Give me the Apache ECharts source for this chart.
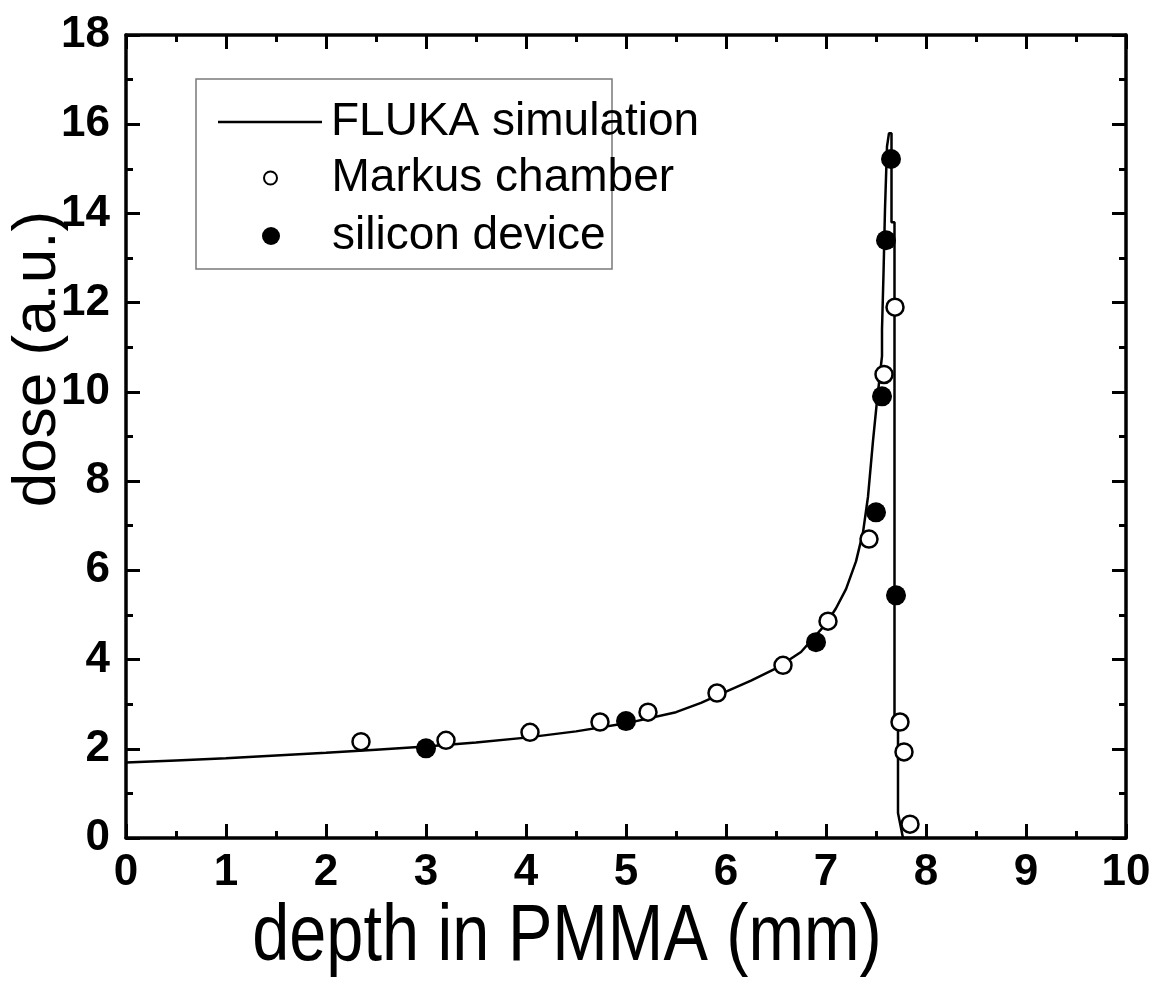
<!DOCTYPE html>
<html>
<head>
<meta charset="utf-8">
<title>Bragg peak: dose vs depth in PMMA</title>
<script src="https://cdn.jsdelivr.net/npm/echarts@6/dist/echarts.min.js"></script>
<style>
  html, body { margin: 0; padding: 0; background: #fff; }
  #chart { width: 1155px; height: 984px; }
</style>
</head>
<body>
<div id="chart"></div>
<script>
// FLUKA simulated depth-dose curve (depth in mm, dose in a.u.)
const simDepth = [0, 0.5, 1, 1.5, 2, 2.5, 3, 3.5, 4, 4.5, 5, 5.5, 5.75, 6, 6.25, 6.5, 6.75,
  7.0, 7.1, 7.2, 7.3, 7.37, 7.42, 7.47, 7.51, 7.54, 7.56, 7.56, 7.575, 7.575, 7.59, 7.59,
  7.61, 7.61, 7.63, 7.63, 7.655, 7.655, 7.685, 7.685, 7.72, 7.72, 7.77, 8.0];
const simDose = [1.69, 1.74, 1.79, 1.85, 1.91, 1.98, 2.05, 2.14, 2.25, 2.39, 2.57, 2.82, 3.03, 3.28, 3.53, 3.8, 4.17,
  4.8, 5.15, 5.58, 6.2, 6.85, 7.65, 8.9, 9.8, 10.4, 10.8, 11.4, 11.4, 12.65, 12.65, 14.1,
  14.1, 15.5, 15.5, 15.8, 15.8, 13.8, 13.8, 2.64, 2.64, 0.56, 0.0, 0.0];

// Markus chamber measurements
const markusDepth = [2.35, 3.2, 4.04, 4.74, 5.22, 5.91, 6.57, 7.02, 7.43, 7.58, 7.69, 7.74, 7.78, 7.84];
const markusDose = [2.16, 2.19, 2.37, 2.6, 2.82, 3.25, 3.87, 4.86, 6.7, 10.39, 11.9, 2.6, 1.93, 0.31];

// silicon device measurements
const siliconDepth = [3.0, 5.0, 6.9, 7.5, 7.56, 7.60, 7.65, 7.70];
const siliconDose = [2.01, 2.62, 4.39, 7.3, 9.9, 13.4, 15.22, 5.44];

const seriesNames = ['FLUKA simulation', 'Markus chamber', 'silicon device'];
const xTitle = 'depth in PMMA (mm)';
const yTitle = 'dose (a.u.)';

const pairs = (xs, ys) => xs.map((x, i) => [x, ys[i]]);

const sans = '"Liberation Sans", Arial, Helvetica, sans-serif';

const frameAxis = {
  type: 'value',
  axisLine: { show: true, onZero: false, lineStyle: { color: '#000', width: 3.5 } },
  axisTick: { show: true, inside: true, length: 14, lineStyle: { color: '#000', width: 3 } },
  minorTick: { show: true, splitNumber: 2, length: 7, lineStyle: { color: '#000', width: 3 } },
  splitLine: { show: false },
  minorSplitLine: { show: false }
};

const tickLabel = { fontFamily: sans, fontWeight: 'bold', fontSize: 44, color: '#000' };

const legendText = { fontFamily: sans, fontSize: 46, color: '#000', lineHeight: 50, padding: [0, 0, 0, 4] };

const chart = echarts.init(document.getElementById('chart'), null, { renderer: 'canvas' });

chart.setOption({
  animation: false,
  backgroundColor: '#fff',
  grid: { left: 126, right: 29, top: 35, bottom: 146, outerBoundsMode: 'none', containLabel: false },
  xAxis: [
    Object.assign({}, frameAxis, {
      position: 'bottom', min: 0, max: 10, interval: 1,
      axisLabel: Object.assign({ margin: 13 }, tickLabel)
    }),
    Object.assign({}, frameAxis, {
      position: 'top', min: 0, max: 10, interval: 1,
      axisLabel: { show: false }
    })
  ],
  yAxis: [
    Object.assign({}, frameAxis, {
      position: 'left', min: 0, max: 18, interval: 2,
      axisLabel: Object.assign({ margin: 16 }, tickLabel)
    }),
    Object.assign({}, frameAxis, {
      position: 'right', min: 0, max: 18, interval: 2,
      axisLabel: { show: false }
    })
  ],
  legend: [
    {
      data: [{ name: seriesNames[0], icon: 'rect', itemStyle: { color: '#000', borderWidth: 0 } }],
      left: 213, top: 92, itemWidth: 104, itemHeight: 2.5, selectedMode: false,
      textStyle: legendText
    },
    {
      data: [{ name: seriesNames[1], icon: 'circle', itemStyle: { color: '#fff', borderColor: '#000', borderWidth: 2, opacity: 1 } }],
      left: 258, top: 148, itemWidth: 104, itemHeight: 13, selectedMode: false,
      textStyle: legendText
    },
    {
      data: [{ name: seriesNames[2], icon: 'circle', itemStyle: { color: '#000', borderWidth: 0, opacity: 1 } }],
      left: 257, top: 206, itemWidth: 104, itemHeight: 18, selectedMode: false,
      textStyle: legendText
    }
  ],
  graphic: [
    {
      // legend frame
      type: 'rect', z: 1,
      shape: { x: 196, y: 79, width: 416, height: 190 },
      style: { fill: null, stroke: '#7a7a7a', lineWidth: 1.5 }
    },
    {
      // x axis title, set in a condensed face
      type: 'text', x: 567, y: 938, scaleX: 0.833, scaleY: 1,
      style: { text: xTitle, fontFamily: sans, fontSize: 80, fill: '#000', align: 'center', verticalAlign: 'middle' }
    },
    {
      // y axis title, reading bottom to top
      type: 'text', x: 38, y: 359, rotation: Math.PI / 2,
      style: { text: yTitle, fontFamily: sans, fontSize: 62, fill: '#000', align: 'center', verticalAlign: 'middle' }
    }
  ],
  series: [
    {
      name: seriesNames[0], type: 'line', xAxisIndex: 0, yAxisIndex: 0,
      data: pairs(simDepth, simDose),
      symbol: 'none', showSymbol: false, smooth: false,
      lineStyle: { color: '#000', width: 2.5 }, itemStyle: { color: '#000' }, z: 2
    },
    {
      name: seriesNames[1], type: 'scatter', xAxisIndex: 0, yAxisIndex: 0,
      data: pairs(markusDepth, markusDose),
      symbol: 'circle', symbolSize: 17,
      itemStyle: { color: '#fff', borderColor: '#000', borderWidth: 2.5, opacity: 1 }, z: 3
    },
    {
      name: seriesNames[2], type: 'scatter', xAxisIndex: 0, yAxisIndex: 0,
      data: pairs(siliconDepth, siliconDose),
      symbol: 'circle', symbolSize: 20,
      itemStyle: { color: '#000', opacity: 1 }, z: 4
    }
  ]
});
</script>
</body>
</html>
